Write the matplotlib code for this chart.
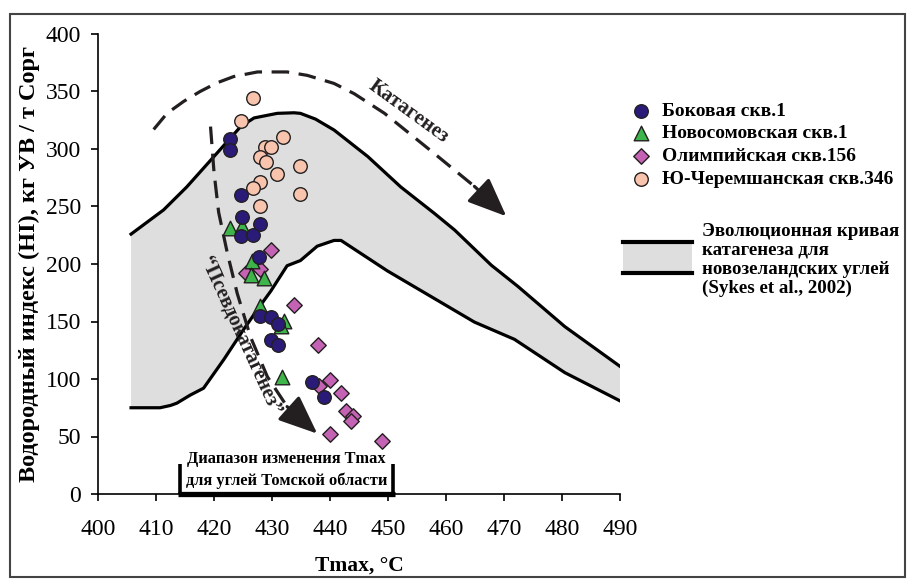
import numpy as np
import matplotlib.pyplot as plt
from matplotlib.patches import Rectangle
from matplotlib.lines import Line2D

plt.rcParams['font.family'] = ['Liberation Serif', 'DejaVu Serif']

# Боковая скв.1
bok_x = [422.7, 422.8, 424.7, 424.9, 427.9, 424.7, 426.7, 427.7, 428.0, 429.8, 431.0, 429.8, 431.0, 436.9, 438.9]
bok_y = [309, 299, 260, 241, 234.5, 224, 225, 206.5, 154.5, 154, 148, 134, 130, 97.5, 84.5]
# Новосомовская скв.1
nov_x = [422.7, 424.9, 426.6, 426.4, 428.6, 427.9, 432.0, 431.5, 431.8]
nov_y = [231.5, 233, 202.5, 190.5, 187.5, 163.5, 150.5, 146, 101.5]
# Олимпийская скв.156
oli_x = [429.8, 425.6, 427.9, 433.8, 437.9, 440.0, 438.1, 441.9, 442.7, 443.9, 443.6, 440.0, 448.9]
oli_y = [212.5, 192.5, 196, 164, 130, 99, 93.5, 87.5, 72.5, 68, 63.5, 52, 46]
# Ю-Черемшанская скв.346
che_x = [426.7, 424.7, 431.9, 428.8, 429.9, 427.9, 428.9, 434.9, 430.9, 427.9, 426.8, 434.9, 427.9]
che_y = [344, 324, 310, 302, 301.5, 293, 289, 285, 278, 271, 266, 261, 250]

# эволюционная кривая (Sykes et al., 2002)
up_x = [405.7, 411.3, 415.3, 420.0, 424.6, 426.9, 430.9, 433.8, 434.9, 437.5, 440.7, 446.5, 452.2, 458.0, 461.5, 467.8, 472.4, 480.5, 490.0]
up_y = [226, 247, 267, 293.5, 319.5, 327, 331, 331.5, 331, 326, 316.5, 293.5, 267, 244, 229.5, 199, 180.5, 145.5, 111]
low_x = [405.7, 410.7, 412.5, 413.6, 415.9, 418.2, 421.7, 425.1, 427.5, 429.8, 432.6, 434.9, 437.8, 440.7, 441.9, 449.9, 464.9, 471.8, 480.5, 490.0]
low_y = [75, 75, 77, 79, 86, 92, 117, 143, 160.5, 176.5, 198.5, 203, 215.5, 220.5, 220.5, 194, 149.5, 134.5, 105.5, 81]

# стрелки
kat_x = [409.6, 411.9, 414.8, 417.6, 420.5, 423.4, 427.5, 432.6, 436.1, 440.7, 444.2, 449.4, 458.0, 464.9]
kat_y = [317, 331, 341.5, 350, 357.5, 363, 367, 367, 364, 357, 348, 331, 296, 267.5]
kat_tip = (470.4, 241.5)
pse_x = [419.4, 420.0, 420.8, 422.3, 424.0, 426.3, 429.2, 432.6]
pse_y = [319.5, 280, 245, 209.5, 174.5, 136.5, 102, 76]
pse_tip = (437.8, 52.5)

dark = '#231f20'

fig = plt.figure(figsize=(9.07, 5.79), dpi=100)
ax = fig.add_axes([98 / 907, 1 - 494 / 579, 522 / 907, 460 / 579])

ax.fill(up_x + low_x[::-1], up_y + low_y[::-1], color='#dedede', lw=0, zorder=1)
ax.plot(up_x, up_y, color='black', lw=2.3, zorder=2)
ax.plot(low_x, low_y, color='black', lw=2.3, zorder=2)

# стрелки
ax.plot(kat_x, kat_y, color=dark, lw=2.3, dashes=(5.5, 3), zorder=2)
ax.annotate('', xy=kat_tip, xytext=(kat_x[-1], kat_y[-1]),
            arrowprops=dict(arrowstyle='-|>,head_length=1.2,head_width=0.5', color=dark,
                            lw=2.3, mutation_scale=20, shrinkA=0, shrinkB=0), zorder=2)
ax.plot(pse_x, pse_y, color=dark, lw=2.3, dashes=(5.5, 3), zorder=2)
ax.annotate('', xy=pse_tip, xytext=(pse_x[-1], pse_y[-1]),
            arrowprops=dict(arrowstyle='-|>,head_length=1.2,head_width=0.5', color=dark,
                            lw=2.3, mutation_scale=20, shrinkA=0, shrinkB=0), zorder=2)

ax.text(453.6, 333, 'Катагенез', rotation=-36, ha='center', va='center',
        fontsize=15, fontweight='bold', color=dark)
ax.text(424.6, 138, '“Псевдокатагенез”', rotation=-65.5, ha='center', va='center',
        fontsize=14.5, fontweight='bold', color=dark, zorder=2)

# точки
ax.scatter(oli_x, oli_y, marker='D', s=62, c='#c462b4', edgecolors=dark, linewidths=1, zorder=3,
           label='Олимпийская скв.156')
ax.scatter(nov_x, nov_y, marker='^', s=110, c='#3db54a', edgecolors=dark, linewidths=1, zorder=4,
           label='Новосомовская скв.1')
ax.scatter(bok_x, bok_y, marker='o', s=95, c='#2a1b78', edgecolors=dark, linewidths=1, zorder=5,
           label='Боковая скв.1')
ax.scatter(che_x, che_y, marker='o', s=95, c='#f8c4ae', edgecolors=dark, linewidths=1, zorder=6,
           label='Ю-Черемшанская скв.346')

# диапазон Tmax
ax.plot([413.8, 451.2], [-0.3, -0.3], color='black', lw=3.8, solid_capstyle='butt', clip_on=False, zorder=7)
ax.plot([414.2, 414.2], [0, 26], color='black', lw=2.6, solid_capstyle='butt', clip_on=False, zorder=7)
ax.plot([450.9, 450.9], [0, 26], color='black', lw=2.6, solid_capstyle='butt', clip_on=False, zorder=7)
ax.text(432.5, 30.5, 'Диапазон изменения Tmax', ha='center', va='center', fontsize=11.8, fontweight='bold')
ax.text(432.5, 11.4, 'для углей Томской области', ha='center', va='center', fontsize=11.8, fontweight='bold')

ax.set_xlim(400, 490)
ax.set_ylim(0, 400)
ax.set_xticks(np.arange(400, 491, 10))
ax.set_yticks(np.arange(0, 401, 50))
ax.spines['top'].set_visible(False)
ax.spines['right'].set_visible(False)
for s in ['left', 'bottom']:
    ax.spines[s].set_linewidth(1.2)
ax.tick_params(direction='out', length=5, width=1.2, labelsize=17)
ax.tick_params(axis='x', pad=13)
ax.tick_params(axis='y', pad=7)
ax.set_xlabel('Tmax, °C', fontsize=15.5, fontweight='bold', labelpad=11)
ax.set_ylabel('Водородный индекс (HI), кг УВ / т Сорг', fontsize=17.5, fontweight='bold', labelpad=4)

h, l = ax.get_legend_handles_labels()
order = [2, 1, 0, 3]
ax.legend([h[i] for i in order], [l[i] for i in order], loc='upper left',
          bbox_to_anchor=(631 / 907, 1 - 102 / 579), bbox_transform=fig.transFigure,
          frameon=False, borderpad=0, borderaxespad=0, handlelength=1.0, handletextpad=0.6,
          labelspacing=0.27, prop={'size': 14, 'weight': 'bold'})

# легенда кривой
fig.add_artist(Rectangle((623 / 907, 1 - 275 / 579), 69 / 907, 34 / 579,
                         transform=fig.transFigure, facecolor='#dedede', edgecolor='none'))
for yy in [242, 273]:
    fig.add_artist(Line2D([623 / 907, 692 / 907], [1 - yy / 579] * 2, transform=fig.transFigure,
                          color='black', lw=3))
fig.text(702 / 907, 1 - 223 / 579,
         'Эволюционная кривая\nкатагенеза для\nновозеландских углей\n(Sykes et al., 2002)',
         va='top', ha='left', fontsize=13.6, fontweight='bold', linespacing=1.15)

# рамка
fig.add_artist(Rectangle((10 / 907, 2 / 579), 895 / 907, 563 / 579, transform=fig.transFigure,
                         fill=False, edgecolor='#444444', lw=1.5))

fig.savefig('out.png', dpi=100)
